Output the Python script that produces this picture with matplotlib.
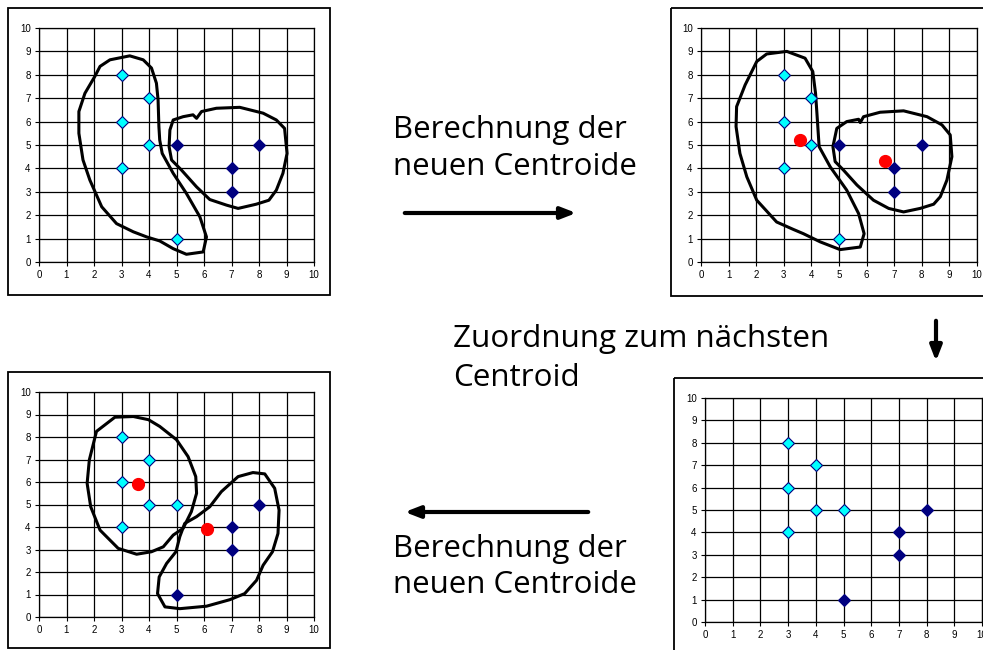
import matplotlib
matplotlib.use('Agg')
import matplotlib.pyplot as plt
from matplotlib.patches import Rectangle, Polygon

# ── DATA ──
# points assigned to the cyan / navy clusters before reassignment
light_x_a = [3, 4, 3, 4, 3, 5]
light_y_a = [8, 7, 6, 5, 4, 1]
dark_x_a = [5, 7, 7, 8]
dark_y_a = [5, 4, 3, 5]

# after reassignment to the nearest centroid
light_x_b = [3, 4, 3, 4, 5, 3]
light_y_b = [8, 7, 6, 5, 5, 4]
dark_x_b = [8, 7, 7, 5]
dark_y_b = [5, 4, 3, 1]

# centroids
cent_x_a = [3.6, 6.65]
cent_y_a = [5.2, 4.3]
cent_x_b = [3.6, 6.1]
cent_y_b = [5.9, 3.9]

# hand-drawn cluster outlines (data units)
hull1_left_x = [2.22, 2.58, 3.3, 3.79, 4.09, 4.27, 4.33, 4.36, 4.39, 4.48, 4.88, 5.36, 5.85, 6.09,
                5.97, 5.36, 4.88, 4.39, 3.92, 3.43, 2.82, 2.28, 1.85, 1.6, 1.45, 1.45, 1.67, 2.03]
hull1_left_y = [8.36, 8.64, 8.81, 8.64, 8.29, 7.64, 6.93, 5.79, 5.21, 4.64, 3.79, 2.93, 1.93, 1.07,
                0.43, 0.33, 0.57, 0.9, 1.07, 1.29, 1.64, 2.36, 3.5, 4.36, 5.5, 6.43, 7.21, 7.93]
hull1_right_x = [4.88, 5.24, 5.6, 5.73, 5.91, 6.45, 7.3, 8.15, 8.63, 8.93, 9.02, 8.87, 8.63, 8.36,
                 7.9, 7.24, 6.82, 6.21, 5.73, 5.18, 4.82, 4.73, 4.76]
hull1_right_y = [6.07, 6.21, 6.29, 6.14, 6.43, 6.57, 6.61, 6.36, 6.07, 5.71, 4.64, 3.79, 3.07, 2.64,
                 2.47, 2.29, 2.43, 2.67, 3.21, 3.93, 4.36, 4.93, 5.64]

hull2_left_x = [2.02, 2.38, 3.11, 3.77, 4.05, 4.15, 4.2, 4.28, 4.68, 5.28, 5.71, 5.91, 5.77, 5.04,
                4.32, 3.71, 3.35, 2.74, 2.02, 1.66, 1.41, 1.27, 1.29, 1.6]
hull2_left_y = [8.57, 8.89, 9.0, 8.71, 8.14, 7.21, 6.36, 4.93, 4.07, 3.07, 2.07, 1.21, 0.64, 0.53,
                0.86, 1.21, 1.39, 1.71, 2.64, 3.64, 4.64, 5.79, 6.64, 7.57]
hull2_right_x = [4.92, 5.28, 5.71, 5.77, 5.89, 6.49, 7.34, 8.19, 8.73, 9.03, 9.09, 8.91, 8.67, 8.43,
                 7.94, 7.34, 6.8, 6.25, 5.65, 5.16, 4.86, 4.78]
hull2_right_y = [5.71, 6.0, 6.1, 5.96, 6.21, 6.4, 6.46, 6.21, 5.86, 5.43, 4.5, 3.5, 2.79, 2.47,
                 2.29, 2.14, 2.29, 2.64, 3.29, 3.93, 4.29, 4.93]

hull3_left_x = [2.09, 2.76, 3.43, 3.98, 4.39, 5.0, 5.42, 5.7, 5.73, 5.54, 5.24, 4.88, 4.52, 4.09,
                3.55, 2.88, 2.22, 1.88, 1.75, 1.83]
hull3_left_y = [8.25, 8.88, 8.91, 8.77, 8.47, 7.88, 7.13, 6.24, 5.5, 4.68, 3.94, 3.64, 3.12, 2.9,
                2.79, 3.05, 3.86, 4.9, 5.94, 6.98]
hull3_right_x = [7.24, 7.78, 8.21, 8.57, 8.73, 8.69, 8.49, 8.15, 7.91, 7.48, 6.94, 6.09, 5.12, 4.58,
                 4.31, 4.37, 4.64, 4.98, 5.12, 5.3, 5.73, 6.21, 6.63]
hull3_right_y = [6.24, 6.42, 6.36, 5.72, 4.75, 3.71, 2.9, 2.3, 1.63, 1.04, 0.77, 0.48, 0.37, 0.45,
                 1.04, 1.78, 2.38, 2.9, 3.57, 4.16, 4.46, 4.9, 5.57]

line1 = ["Berechnung der", "neuen Centroide"]
line2 = ["Zuordnung zum nächsten", "Centroid"]

W, H = 983, 650
fig = plt.figure(figsize=(W / 100, H / 100), dpi=100)
fig.patch.set_facecolor('white')

# overlay for frames, text and arrows, in pixel units
over = fig.add_axes([0, 0, 1, 1], zorder=0)
over.set_xlim(0, W)
over.set_ylim(H, 0)
over.axis('off')

for (x0, y0, x1, y1) in [(8, 8, 330, 295), (671, 8, 995, 296), (8, 372, 330, 648), (674, 378, 995, 660)]:
    over.add_patch(Rectangle((x0, y0), x1 - x0, y1 - y0, fill=False, ec='black', lw=1.3))

font = ['Open Sans', 'DejaVu Sans']
over.text(393, 138, line1[0], fontsize=22.5, family=font, va='baseline')
over.text(393, 175, line1[1], fontsize=22.5, family=font, va='baseline')
over.text(453, 347, line2[0], fontsize=22.6, family=font, va='baseline')
over.text(453, 386, line2[1], fontsize=22.6, family=font, va='baseline')
over.text(393, 557, line1[0], fontsize=22.5, family=font, va='baseline')
over.text(393, 593, line1[1], fontsize=22.5, family=font, va='baseline')

arrow = dict(arrowstyle='-|>,head_length=0.9,head_width=0.35', color='black', lw=3)
over.annotate('', xy=(579, 213), xytext=(402, 213), arrowprops=arrow)
over.annotate('', xy=(936, 364), xytext=(936, 318), arrowprops=arrow)
over.annotate('', xy=(402, 512), xytext=(591, 512), arrowprops=arrow)


def panel(rect, lx, ly, dx, dy, cx=None, cy=None, hulls=()):
    ax = fig.add_axes(rect, zorder=2)
    ax.set_xlim(0, 10)
    ax.set_ylim(0, 10)
    ax.set_xticks(range(11))
    ax.set_yticks(range(11))
    ax.grid(True, color='black', lw=0.9)
    ax.set_axisbelow(True)
    for s in ax.spines.values():
        s.set_color('black')
        s.set_linewidth(0.9)
    ax.tick_params(labelsize=7, length=3, width=0.8, pad=3)
    for lab in ax.get_xticklabels() + ax.get_yticklabels():
        lab.set_family(['Liberation Sans', 'DejaVu Sans'])
    for hx, hy in hulls:
        ax.add_patch(Polygon(list(zip(hx, hy)), closed=True, fill=False, ec='black', lw=2.2,
                             joinstyle='round', zorder=3, clip_on=False))
    ax.plot(lx, ly, 'D', ms=6, mfc='#00FFFF', mec='#000080', mew=0.8, ls='none', zorder=4)
    ax.plot(dx, dy, 'D', ms=6, mfc='#000080', mec='#000080', mew=0.8, ls='none', zorder=4)
    if cx is not None:
        ax.plot(cx, cy, 'o', ms=8.5, mfc='#FF0000', mec='#FF0000', ls='none', zorder=5)
    return ax


panel([39 / W, 1 - 262 / H, 275 / W, 234 / H], light_x_a, light_y_a, dark_x_a, dark_y_a,
      hulls=[(hull1_left_x, hull1_left_y), (hull1_right_x, hull1_right_y)])
panel([701 / W, 1 - 262 / H, 276 / W, 234 / H], light_x_a, light_y_a, dark_x_a, dark_y_a,
      cent_x_a, cent_y_a,
      hulls=[(hull2_left_x, hull2_left_y), (hull2_right_x, hull2_right_y)])
panel([39 / W, 1 - 617 / H, 275 / W, 225 / H], light_x_b, light_y_b, dark_x_b, dark_y_b,
      cent_x_b, cent_y_b,
      hulls=[(hull3_left_x, hull3_left_y), (hull3_right_x, hull3_right_y)])
panel([705 / W, 1 - 622 / H, 277 / W, 224 / H], light_x_b, light_y_b, dark_x_b, dark_y_b)

fig.savefig('out.png', dpi=100, facecolor='white')
